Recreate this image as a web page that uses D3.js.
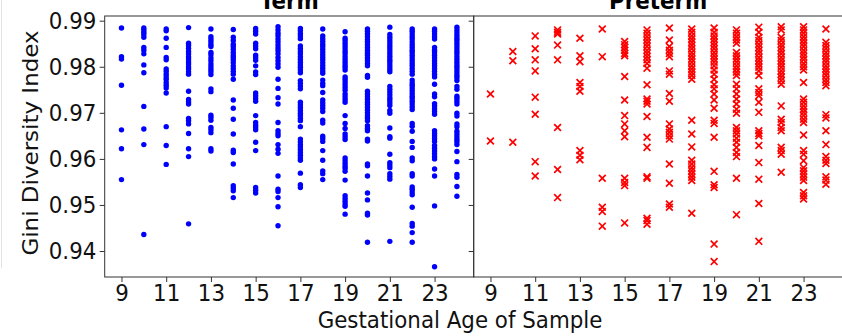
<!DOCTYPE html>
<html>
<head>
<meta charset="utf-8">
<script src="https://cdn.jsdelivr.net/npm/d3@7"></script>
<style>
  body { margin: 0; background: #fff; }
  svg { display: block; font-family: "DejaVu Sans", sans-serif; }
</style>
</head>
<body>
<svg id="chart"></svg>
<script>
// Gini diversity by gestational age, term vs preterm
const ages = [9, 10, 11, 12, 13, 14, 15, 16, 17, 18, 19, 20, 21, 22, 23, 24];
const xTicks = [9, 11, 13, 15, 17, 19, 21, 23];
const yTicks = [0.94, 0.95, 0.96, 0.97, 0.98, 0.99];

// one list of samples per gestational week (same order as ages)
const termGini = [
  [0.9884, 0.9822, 0.9817, 0.9760, 0.9663, 0.9622, 0.9555],
  [0.9884, 0.9880, 0.9875, 0.9870, 0.9864, 0.9842, 0.9836, 0.9828, 0.9804, 0.9787, 0.9714, 0.9665, 0.9631, 0.9436],
  [0.9882, 0.9878, 0.9862, 0.9842, 0.9820, 0.9815, 0.9795, 0.9790, 0.9784, 0.9778, 0.9773, 0.9766, 0.9760, 0.9754, 0.9743, 0.9670, 0.9629, 0.9588],
  [0.9885, 0.9851, 0.9846, 0.9840, 0.9833, 0.9828, 0.9822, 0.9817, 0.9811, 0.9806, 0.9800, 0.9795, 0.9789, 0.9784, 0.9747, 0.9729, 0.9724, 0.9719, 0.9688, 0.9683, 0.9676, 0.9655, 0.9622, 0.9605, 0.9459],
  [0.9882, 0.9865, 0.9860, 0.9855, 0.9849, 0.9844, 0.9831, 0.9826, 0.9819, 0.9813, 0.9806, 0.9800, 0.9794, 0.9789, 0.9783, 0.9752, 0.9746, 0.9695, 0.9690, 0.9684, 0.9668, 0.9663, 0.9657, 0.9622, 0.9617],
  [0.9881, 0.9864, 0.9857, 0.9849, 0.9844, 0.9838, 0.9831, 0.9825, 0.9820, 0.9815, 0.9809, 0.9802, 0.9796, 0.9790, 0.9784, 0.9773, 0.9728, 0.9710, 0.9686, 0.9654, 0.9619, 0.9614, 0.9589, 0.9542, 0.9537, 0.9531, 0.9516],
  [0.9883, 0.9877, 0.9871, 0.9851, 0.9845, 0.9839, 0.9825, 0.9820, 0.9814, 0.9802, 0.9789, 0.9783, 0.9743, 0.9737, 0.9731, 0.9725, 0.9694, 0.9679, 0.9673, 0.9668, 0.9663, 0.9636, 0.9618, 0.9538, 0.9532, 0.9526],
  [0.9887, 0.9880, 0.9873, 0.9867, 0.9860, 0.9854, 0.9847, 0.9841, 0.9835, 0.9828, 0.9820, 0.9813, 0.9806, 0.9799, 0.9773, 0.9753, 0.9733, 0.9719, 0.9679, 0.9661, 0.9655, 0.9650, 0.9631, 0.9621, 0.9612, 0.9563, 0.9534, 0.9529, 0.9516, 0.9496, 0.9455],
  [0.9883, 0.9878, 0.9872, 0.9867, 0.9861, 0.9845, 0.9839, 0.9833, 0.9828, 0.9822, 0.9816, 0.9810, 0.9804, 0.9799, 0.9793, 0.9787, 0.9770, 0.9764, 0.9758, 0.9752, 0.9723, 0.9717, 0.9711, 0.9705, 0.9699, 0.9694, 0.9688, 0.9683, 0.9670, 0.9643, 0.9637, 0.9631, 0.9626, 0.9620, 0.9614, 0.9608, 0.9602, 0.9597, 0.9569, 0.9544, 0.9538],
  [0.9882, 0.9867, 0.9861, 0.9855, 0.9849, 0.9844, 0.9838, 0.9832, 0.9826, 0.9820, 0.9815, 0.9809, 0.9803, 0.9797, 0.9791, 0.9786, 0.9771, 0.9764, 0.9759, 0.9744, 0.9728, 0.9722, 0.9716, 0.9710, 0.9703, 0.9684, 0.9678, 0.9649, 0.9644, 0.9638, 0.9618, 0.9597, 0.9574, 0.9568, 0.9555],
  [0.9876, 0.9862, 0.9857, 0.9851, 0.9845, 0.9839, 0.9833, 0.9828, 0.9822, 0.9816, 0.9810, 0.9804, 0.9799, 0.9793, 0.9778, 0.9773, 0.9767, 0.9761, 0.9755, 0.9749, 0.9741, 0.9735, 0.9729, 0.9723, 0.9694, 0.9677, 0.9666, 0.9654, 0.9648, 0.9642, 0.9602, 0.9596, 0.9590, 0.9584, 0.9579, 0.9573, 0.9554, 0.9520, 0.9514, 0.9508, 0.9502, 0.9497, 0.9480],
  [0.9882, 0.9877, 0.9871, 0.9865, 0.9859, 0.9854, 0.9848, 0.9842, 0.9836, 0.9830, 0.9825, 0.9819, 0.9813, 0.9807, 0.9802, 0.9781, 0.9777, 0.9747, 0.9741, 0.9735, 0.9729, 0.9723, 0.9718, 0.9712, 0.9706, 0.9700, 0.9694, 0.9689, 0.9683, 0.9672, 0.9666, 0.9661, 0.9643, 0.9639, 0.9589, 0.9585, 0.9563, 0.9526, 0.9511, 0.9482, 0.9478, 0.9419],
  [0.9886, 0.9870, 0.9864, 0.9858, 0.9852, 0.9846, 0.9841, 0.9835, 0.9829, 0.9823, 0.9817, 0.9812, 0.9806, 0.9800, 0.9794, 0.9789, 0.9757, 0.9751, 0.9745, 0.9739, 0.9733, 0.9728, 0.9722, 0.9716, 0.9705, 0.9699, 0.9667, 0.9648, 0.9645, 0.9610, 0.9592, 0.9587, 0.9581, 0.9568, 0.9562, 0.9556, 0.9421],
  [0.9882, 0.9877, 0.9871, 0.9865, 0.9860, 0.9854, 0.9848, 0.9842, 0.9836, 0.9831, 0.9825, 0.9819, 0.9813, 0.9807, 0.9802, 0.9796, 0.9790, 0.9784, 0.9771, 0.9765, 0.9760, 0.9754, 0.9748, 0.9742, 0.9736, 0.9731, 0.9725, 0.9719, 0.9713, 0.9707, 0.9677, 0.9671, 0.9660, 0.9638, 0.9625, 0.9602, 0.9596, 0.9568, 0.9563, 0.9539, 0.9534, 0.9528, 0.9522, 0.9495, 0.9460, 0.9454, 0.9440, 0.9419],
  [0.9882, 0.9877, 0.9871, 0.9865, 0.9860, 0.9842, 0.9836, 0.9831, 0.9825, 0.9819, 0.9813, 0.9807, 0.9802, 0.9796, 0.9790, 0.9784, 0.9778, 0.9762, 0.9741, 0.9735, 0.9720, 0.9715, 0.9709, 0.9703, 0.9697, 0.9661, 0.9655, 0.9650, 0.9644, 0.9638, 0.9629, 0.9623, 0.9617, 0.9611, 0.9605, 0.9600, 0.9578, 0.9563, 0.9498, 0.9366],
  [0.9886, 0.9880, 0.9874, 0.9868, 0.9862, 0.9857, 0.9851, 0.9845, 0.9839, 0.9833, 0.9828, 0.9822, 0.9816, 0.9810, 0.9804, 0.9799, 0.9793, 0.9787, 0.9781, 0.9776, 0.9770, 0.9757, 0.9751, 0.9736, 0.9731, 0.9725, 0.9719, 0.9699, 0.9693, 0.9676, 0.9670, 0.9660, 0.9654, 0.9648, 0.9642, 0.9637, 0.9631, 0.9616, 0.9594, 0.9566, 0.9560, 0.9540, 0.9519]
];

const pretermGini = [
  [0.9741, 0.9639],
  [0.9833, 0.9813, 0.9636],
  [0.9867, 0.9839, 0.9815, 0.9791, 0.9734, 0.9697, 0.9594, 0.9563],
  [0.9880, 0.9875, 0.9871, 0.9847, 0.9815, 0.9668, 0.9577, 0.9516],
  [0.9862, 0.9824, 0.9811, 0.9766, 0.9757, 0.9747, 0.9618, 0.9608, 0.9598],
  [0.9882, 0.9822, 0.9558, 0.9495, 0.9486, 0.9454],
  [0.9855, 0.9848, 0.9842, 0.9836, 0.9829, 0.9824, 0.9779, 0.9728, 0.9694, 0.9676, 0.9661, 0.9648, 0.9558, 0.9549, 0.9542, 0.9461],
  [0.9880, 0.9873, 0.9865, 0.9858, 0.9851, 0.9844, 0.9836, 0.9829, 0.9822, 0.9815, 0.9807, 0.9797, 0.9761, 0.9730, 0.9725, 0.9719, 0.9692, 0.9647, 0.9625, 0.9561, 0.9558, 0.9471, 0.9466, 0.9458],
  [0.9884, 0.9858, 0.9844, 0.9836, 0.9829, 0.9822, 0.9791, 0.9784, 0.9742, 0.9725, 0.9676, 0.9665, 0.9658, 0.9650, 0.9643, 0.9589, 0.9547, 0.9502, 0.9495],
  [0.9882, 0.9875, 0.9867, 0.9860, 0.9853, 0.9846, 0.9839, 0.9831, 0.9824, 0.9817, 0.9810, 0.9802, 0.9795, 0.9788, 0.9781, 0.9773, 0.9684, 0.9654, 0.9626, 0.9597, 0.9589, 0.9581, 0.9574, 0.9567, 0.9560, 0.9553, 0.9482],
  [0.9884, 0.9875, 0.9867, 0.9860, 0.9853, 0.9846, 0.9839, 0.9831, 0.9824, 0.9817, 0.9810, 0.9802, 0.9793, 0.9784, 0.9773, 0.9761, 0.9752, 0.9741, 0.9728, 0.9710, 0.9684, 0.9677, 0.9647, 0.9573, 0.9544, 0.9538, 0.9415, 0.9377],
  [0.9880, 0.9873, 0.9865, 0.9858, 0.9851, 0.9831, 0.9824, 0.9817, 0.9810, 0.9802, 0.9795, 0.9788, 0.9781, 0.9762, 0.9752, 0.9741, 0.9730, 0.9719, 0.9708, 0.9699, 0.9668, 0.9661, 0.9654, 0.9645, 0.9636, 0.9625, 0.9614, 0.9605, 0.9558, 0.9479],
  [0.9886, 0.9875, 0.9864, 0.9857, 0.9849, 0.9842, 0.9835, 0.9828, 0.9820, 0.9813, 0.9806, 0.9799, 0.9791, 0.9781, 0.9752, 0.9744, 0.9737, 0.9723, 0.9701, 0.9661, 0.9655, 0.9650, 0.9629, 0.9592, 0.9556, 0.9503, 0.9421],
  [0.9887, 0.9880, 0.9864, 0.9857, 0.9849, 0.9842, 0.9835, 0.9828, 0.9820, 0.9813, 0.9806, 0.9799, 0.9791, 0.9784, 0.9777, 0.9770, 0.9762, 0.9715, 0.9686, 0.9679, 0.9668, 0.9661, 0.9625, 0.9618, 0.9610, 0.9571],
  [0.9887, 0.9880, 0.9873, 0.9865, 0.9858, 0.9851, 0.9844, 0.9836, 0.9829, 0.9822, 0.9815, 0.9807, 0.9800, 0.9793, 0.9766, 0.9730, 0.9723, 0.9715, 0.9708, 0.9701, 0.9694, 0.9686, 0.9679, 0.9652, 0.9618, 0.9610, 0.9596, 0.9581, 0.9574, 0.9567, 0.9560, 0.9553, 0.9527, 0.9520, 0.9513],
  [0.9882, 0.9853, 0.9846, 0.9839, 0.9831, 0.9824, 0.9817, 0.9810, 0.9802, 0.9795, 0.9788, 0.9781, 0.9773, 0.9766, 0.9759, 0.9696, 0.9689, 0.9661, 0.9631, 0.9605, 0.9597, 0.9590, 0.9561, 0.9554, 0.9545]
];

const width = 842;
const height = 336;
const panelW = 369;
const plotTop = 16, plotBottom = 277;
const leftX = 104.7;
const fontSize = "23px";
const squeeze = "scale(0.93,1)";   // reference text is slightly narrow

// flatten week lists into points
function toPoints(lists) {
    const pts = [];
    lists.forEach((vals, i) => vals.forEach(v => pts.push({ age: ages[i], gini: v })));
    return pts;
}

function drawChart() {
    const svg = d3.select("#chart")
        .attr("width", width)
        .attr("height", height);

    const y = d3.scaleLinear()
        .domain([0.93436, 0.99102])
        .range([plotBottom, plotTop]);

    // faint border at far left
    svg.append("line")
        .attr("x1", 1.5).attr("x2", 1.5)
        .attr("y1", 0).attr("y2", 268)
        .attr("stroke", "#e2e2e2");

    const panels = [
        { title: "Term", x0: leftX, data: toPoints(termGini), labels: true },
        { title: "Preterm", x0: leftX + panelW, data: toPoints(pretermGini), labels: false }
    ];

    panels.forEach(p => {
        const x = d3.scaleLinear()
            .domain([8.25, 24.75])
            .range([p.x0, p.x0 + panelW]);

        const g = svg.append("g");

        // points
        if (p.labels) {
            g.selectAll("circle")
                .data(p.data)
                .enter()
                .append("circle")
                .attr("cx", d => x(d.age))
                .attr("cy", d => y(d.gini))
                .attr("r", 2.7)
                .attr("fill", "#0000ff");
        } else {
            const s = 3.4;
            g.selectAll("path.mark")
                .data(p.data)
                .enter()
                .append("path")
                .attr("class", "mark")
                .attr("d", d => {
                    const cx = x(d.age), cy = y(d.gini);
                    return `M${cx - s},${cy - s}L${cx + s},${cy + s}M${cx - s},${cy + s}L${cx + s},${cy - s}`;
                })
                .attr("stroke", "#ff0000")
                .attr("stroke-width", 1.7)
                .attr("fill", "none");
        }

        // frame
        g.append("rect")
            .attr("x", p.x0)
            .attr("y", plotTop)
            .attr("width", panelW)
            .attr("height", plotBottom - plotTop)
            .attr("fill", "none")
            .attr("stroke", "#333")
            .attr("stroke-width", 1);

        // axes
        const xAxis = g.append("g")
            .attr("transform", `translate(0,${plotBottom})`)
            .call(d3.axisBottom(x).tickValues(xTicks).tickSize(5).tickPadding(3));
        const yAxis = g.append("g")
            .attr("transform", `translate(${p.x0},0)`)
            .call(d3.axisLeft(y).tickValues(yTicks).tickSize(5).tickPadding(4)
                .tickFormat(p.labels ? d3.format(".2f") : () => ""));

        [xAxis, yAxis].forEach(a => {
            a.select(".domain").remove();
            a.selectAll(".tick line").attr("stroke", "#333");
            a.selectAll(".tick text")
                .attr("fill", "#111")
                .attr("transform", squeeze)
                .style("font-size", fontSize)
                .style("font-family", "DejaVu Sans");
        });

        // title
        svg.append("text")
            .attr("transform", `translate(${p.x0 + panelW / 2},9) ${squeeze}`)
            .attr("text-anchor", "middle")
            .style("font-size", fontSize)
            .style("font-weight", "bold")
            .text(p.title);
    });

    svg.append("text")
        .attr("transform", `translate(460,328) ${squeeze}`)
        .attr("text-anchor", "middle")
        .style("font-size", fontSize)
        .attr("fill", "#111")
        .text("Gestational Age of Sample");

    svg.append("text")
        .attr("transform", `translate(38,143) ${squeeze} rotate(-90)`)
        .attr("text-anchor", "middle")
        .style("font-size", fontSize)
        .attr("fill", "#111")
        .text("Gini Diversity Index");
}

window.onload = drawChart;
</script>
</body>
</html>
